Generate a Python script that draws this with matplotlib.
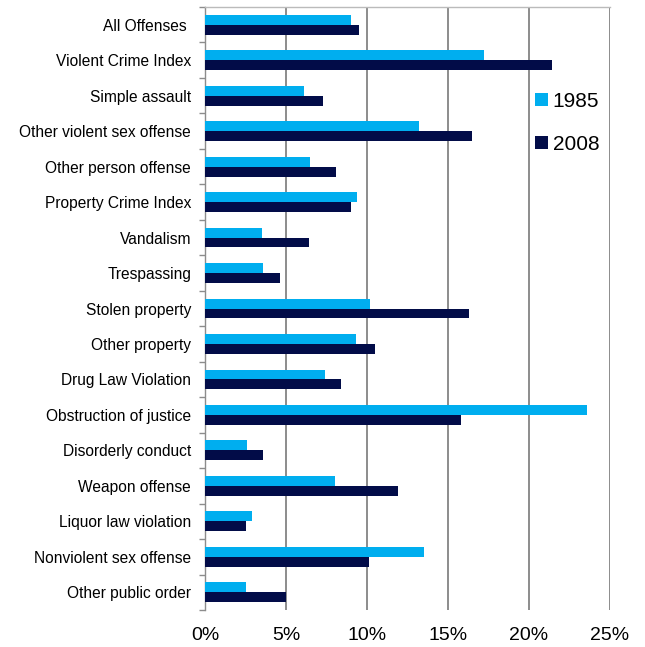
import numpy as np
import matplotlib
matplotlib.use("Agg")
from matplotlib import pyplot as plt

plt.rcParams['font.family'] = ['Liberation Sans', 'DejaVu Sans']

## data (percent)
categories = ["All Offenses ", "Violent Crime Index", "Simple assault",
              "Other violent sex offense", "Other person offense",
              "Property Crime Index", "Vandalism", "Trespassing",
              "Stolen property", "Other property", "Drug Law Violation",
              "Obstruction of justice", "Disorderly conduct", "Weapon offense",
              "Liquor law violation", "Nonviolent sex offense", "Other public order"]
vals_1985 = [9.0, 17.2, 6.1, 13.2, 6.5, 9.4, 3.5, 3.6, 10.2, 9.3, 7.4,
             23.6, 2.6, 8.0, 2.9, 13.5, 2.5]
vals_2008 = [9.5, 21.4, 7.3, 16.5, 8.1, 9.0, 6.4, 4.6, 16.3, 10.5, 8.4,
             15.8, 3.6, 11.9, 2.5, 10.1, 5.0]
x_ticks = [0, 5, 10, 15, 20, 25]
x_labels = ["0%", "5%", "10%", "15%", "20%", "25%"]

light = "#00AEEF"
dark = "#020C48"
grey = "#8C8C8C"

fig = plt.figure(figsize=(6.45, 6.47), dpi=100)
ax = fig.add_axes([205 / 645, 1 - 610 / 647, 405 / 645, 603 / 647])

y = np.arange(len(categories))
h = 0.28
ax.barh(y - h / 2, vals_1985, height=h, color=light, label="1985", zorder=3)
ax.barh(y + h / 2, vals_2008, height=h, color=dark, label="2008", zorder=3)

ax.set_xlim(0, 25)
ax.set_ylim(len(categories) - 0.5, -0.5)

ax.set_xticks(x_ticks)
ax.set_xticklabels(x_labels, fontsize=14)
ax.tick_params(axis="x", length=0, pad=12)
ax.xaxis.grid(True, color=grey, linewidth=1.4, zorder=0)

## labels at the centres, tick marks between categories
ax.set_yticks(y)
ax.set_yticklabels(categories, fontsize=11.2)
ax.set_yticks(np.arange(len(categories) + 1) - 0.5, minor=True)
ax.tick_params(axis="y", which="major", length=0, pad=10)
ax.tick_params(axis="y", which="minor", length=4, color=grey, width=1)

for s in ["right", "bottom"]:
    ax.spines[s].set_visible(False)
ax.spines["left"].set_color(grey)
ax.spines["top"].set_color("#BBBBBB")
ax.spines["left"].set_linewidth(1)
ax.spines["top"].set_linewidth(1)

ax.legend(loc="center left", bbox_to_anchor=(0.815, 0.808), frameon=False,
          fontsize=15, handlelength=0.6, handleheight=0.6, handletextpad=0.25,
          labelspacing=1.15, borderaxespad=0, borderpad=0)

plt.savefig("out.png", dpi=100)
